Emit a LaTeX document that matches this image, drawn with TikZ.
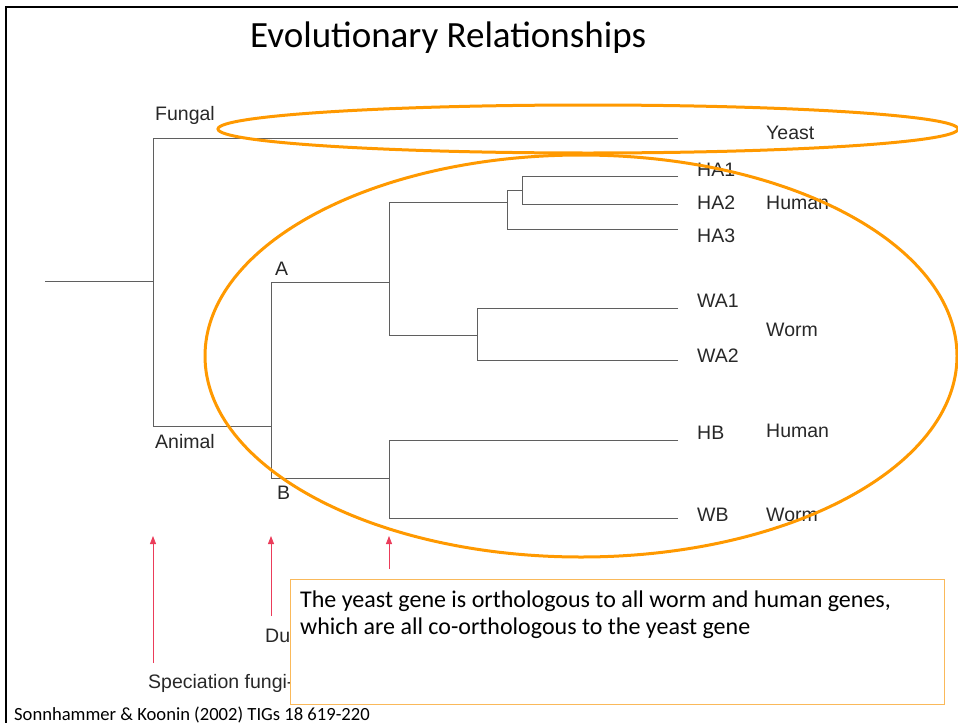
\documentclass[tikz,border=0pt]{standalone}
\usepackage{fontspec}
\setmainfont{Carlito}
\newfontfamily\treefont{Liberation Sans}
\usetikzlibrary{arrows.meta}
\definecolor{ringorange}{RGB}{255,153,0}
\definecolor{boxorange}{RGB}{250,185,90}
\definecolor{treegray}{RGB}{95,95,95}
\definecolor{labelgray}{RGB}{40,40,40}
\definecolor{eventred}{RGB}{235,60,90}
\begin{document}
\begin{tikzpicture}[x=1pt,y=-1pt,
  branch/.style={draw=treegray,line width=1pt},
  treelabel/.style={anchor=base west,inner sep=0pt,text=labelgray,
    font=\treefont\fontsize{19.5}{22}\selectfont},
  ring/.style={draw=ringorange,line width=3pt},
  eventarrow/.style={draw=eventred,line width=0.8pt,
    -{Triangle[length=8pt,width=6pt]}},
  notebox/.style={draw=boxorange,line width=1pt,fill=white},
  notetext/.style={anchor=base west,inner sep=0pt,
    font=\fontsize{24}{28}\selectfont}]
\useasboundingbox (0,0) rectangle (958,723);

% slide frame
\draw[line width=2.5pt] (958,7) -- (6,7) -- (6,723);

% title
\node[anchor=base west,inner sep=0pt,font=\fontsize{37}{44}\selectfont] (title) at (250,47) {Evolutionary Relationships};

% tree coordinates
\coordinate (root) at (45,281);
\coordinate (spec) at (153,281);
\coordinate (fungT) at (153,138);
\coordinate (animT) at (153,426);
\coordinate (animN) at (271,426);
\coordinate (yeastE) at (678,138);
\coordinate (aT) at (271,282);
\coordinate (aN) at (389,282);
\coordinate (bT) at (271,478);
\coordinate (bN) at (389,478);
\coordinate (haT) at (389,202);
\coordinate (haN) at (507,202);
\coordinate (waT) at (389,335);
\coordinate (waN) at (477,335);
\coordinate (ha12T) at (507,190);
\coordinate (ha12N) at (522,190);
\coordinate (ha3T) at (507,229);
\coordinate (ha1T) at (522,176);
\coordinate (ha2T) at (522,204);
\coordinate (wa1T) at (477,308);
\coordinate (wa2T) at (477,360);
\coordinate (hbT) at (389,440);
\coordinate (wbT) at (389,518);
\coordinate (ha1E) at (678,176);
\coordinate (ha2E) at (678,204);
\coordinate (ha3E) at (678,229);
\coordinate (wa1E) at (678,308);
\coordinate (wa2E) at (678,360);
\coordinate (hbE) at (678,440);
\coordinate (wbE) at (678,518);

% branches
\draw[branch] (root) -- (spec);
\draw[branch] (yeastE) -- (fungT) -- (animT) -- (animN);
\draw[branch] (aN) -- (aT) -- (bT) -- (bN);
\draw[branch] (haN) -- (haT) -- (waT) -- (waN);
\draw[branch] (ha3E) -- (ha3T) -- (ha12T) -- (ha12N);
\draw[branch] (ha1E) -- (ha1T) -- (ha2T) -- (ha2E);
\draw[branch] (wa1E) -- (wa1T) -- (wa2T) -- (wa2E);
\draw[branch] (hbE) -- (hbT) -- (wbT) -- (wbE);

% internal labels
\node[treelabel] (fungal) at (155,120) {Fungal};
\node[treelabel] (animal) at (155,448) {Animal};
\node[treelabel] (labA) at (275,275) {A};
\node[treelabel] (labB) at (277,499) {B};

% leaf labels
\node[treelabel] (ha1) at (697,176) {HA1};
\node[treelabel] (ha2) at (697,209) {HA2};
\node[treelabel] (ha3) at (697,242) {HA3};
\node[treelabel] (wa1) at (697,307) {WA1};
\node[treelabel] (wa2) at (697,362) {WA2};
\node[treelabel] (hb) at (697,439) {HB};
\node[treelabel] (wb) at (697,521) {WB};

% species labels
\node[treelabel] (yeast) at (766,139) {Yeast};
\node[treelabel] (human1) at (766,209) {Human};
\node[treelabel] (worm1) at (766,336) {Worm};
\node[treelabel] (human2) at (766,437) {Human};
\node[treelabel] (worm2) at (766,521) {Worm};

% rings around the groups
\draw[ring] (588,129) ellipse [x radius=370, y radius=24];
\draw[ring] (581,356) ellipse [x radius=376, y radius=201];

% event markers
\coordinate (e1s) at (153,663);
\coordinate (e1e) at (153,536);
\coordinate (e2s) at (271,616);
\coordinate (e2e) at (271,536);
\coordinate (e3s) at (389,569);
\coordinate (e3e) at (389,536);
\draw[eventarrow] (e1s) -- (e1e);
\draw[eventarrow] (e2s) -- (e2e);
\draw[eventarrow] (e3s) -- (e3e);
\node[treelabel] (specText) at (148,688) {Speciation fungi-};
\node[treelabel] (dupText) at (265,642) {Dup};

% note box
\draw[notebox] (290,579) rectangle (944,704);
\node[notetext] (note) at (300,607)
  {The yeast gene is orthologous to all worm and human genes,};
\node[notetext] (note2) at (300,634)
  {which are all co-orthologous to the yeast gene};

% reference
\node[anchor=base west,inner sep=0pt,font=\fontsize{18.6}{22}\selectfont] (ref) at (14,720)
  {Sonnhammer \& Koonin (2002) TIGs 18 619-220};
\end{tikzpicture}
\end{document}
